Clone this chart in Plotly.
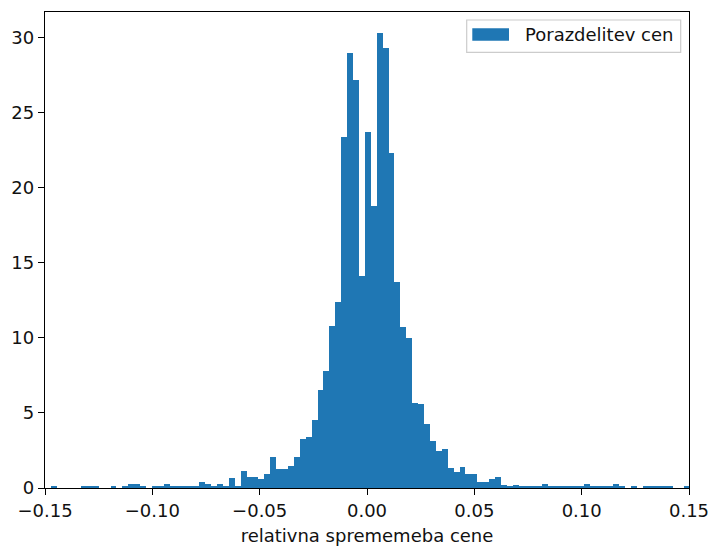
import numpy as np
import plotly.graph_objects as go

# Histogram (density)
BIN_START = -0.1498
BIN_WIDTH = 0.002756
density = [
    0, 0.075, 0, 0, 0, 0, 0.15, 0.075, 0.075, 0,
    0, 0.075, 0, 0.15, 0.29, 0.29, 0.075, 0, 0.075, 0.075,
    0.29, 0.15, 0.15, 0.075, 0.075, 0.075, 0.38, 0.29, 0.075, 0.29,
    0.15, 0.67, 0.11, 1.12, 0.76, 0.76, 0.62, 0.95, 2.06, 1.28,
    1.28, 1.46, 2.04, 3.24, 3.4, 4.53, 6.5, 7.82, 10.8, 12.4,
    23.4, 29.0, 27.2, 14.1, 23.7, 18.8, 30.3, 29.3, 22.3, 13.7,
    10.75, 10.0, 5.67, 5.58, 4.29, 3.16, 2.47, 2.62, 1.31, 1.09,
    1.42, 0.91, 0.91, 0.38, 0.38, 0.58, 0.71, 0.23, 0.15, 0.23,
    0.075, 0.075, 0.15, 0.15, 0.3, 0.15, 0.15, 0.075, 0.075, 0.075,
    0.075, 0.3, 0.075, 0.075, 0.15, 0.15, 0.3, 0.15, 0, 0.075,
    0, 0.075, 0.075, 0.15, 0.075, 0.075, 0, 0, 0.075,
]
x_ticks = [-0.15, -0.10, -0.05, 0.00, 0.05, 0.10, 0.15]
x_ticktext = ["\u22120.15", "\u22120.10", "\u22120.05", "0.00", "0.05", "0.10", "0.15"]
y_ticks = [0, 5, 10, 15, 20, 25, 30]
series_name = "Porazdelitev cen"
x_label = "relativna sprememeba cene"

centers = BIN_START + (np.arange(len(density)) + 0.5) * BIN_WIDTH

FONT = "DejaVu Sans"
FS = 18
BLUE = "#1f77b4"

fig = go.Figure()
fig.add_trace(go.Bar(
    x=centers, y=density, width=BIN_WIDTH, name=series_name,
    marker=dict(color=BLUE, line=dict(width=0)), showlegend=False,
))

axis_common = dict(
    showline=True, linecolor="black", linewidth=1.4, mirror=True,
    ticks="outside", ticklen=6, tickwidth=1.4, tickcolor="black",
    showgrid=False, zeroline=False, automargin=False,
    tickfont=dict(family=FONT, size=FS, color="#111"),
)
fig.update_xaxes(range=[-0.15, 0.15], tickvals=x_ticks, ticktext=x_ticktext,
                 title=dict(text=x_label, font=dict(family=FONT, size=FS, color="#111"), standoff=9),
                 **axis_common)
fig.update_yaxes(range=[0, 31.73], tickvals=y_ticks, **axis_common)

# legend drawn like matplotlib's
fig.add_shape(type="rect", xref="paper", yref="paper", x0=0.6548, x1=0.9871, y0=0.9153, y1=0.9832,
              line=dict(color="rgba(204,204,204,1)", width=1.2), fillcolor="rgba(255,255,255,0.8)", layer="above")
fig.add_shape(type="rect", xref="paper", yref="paper", x0=0.6635, x1=0.7205, y0=0.9397, y1=0.9658,
              line=dict(width=0), fillcolor=BLUE, layer="above")
fig.add_annotation(xref="paper", yref="paper", x=0.7427, y=0.9522, xanchor="left", yanchor="middle",
                   text=series_name, showarrow=False, font=dict(family=FONT, size=FS, color="#111"))

fig.update_layout(
    width=711, height=546, autosize=False,
    margin=dict(l=45, r=22, t=12, b=58),
    paper_bgcolor="white", plot_bgcolor="white",
    bargap=0, font=dict(family=FONT, size=FS, color="#111"),
)
fig.write_html("out.html")
